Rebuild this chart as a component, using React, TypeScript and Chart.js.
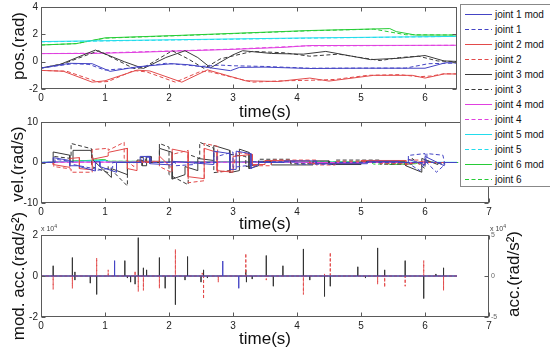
import React, { useEffect, useRef } from "react";
import { Chart, registerables } from "chart.js";
Chart.register(...registerables);

type P = [number, number];

// ---------------- data ----------------
const legendLabels = [
  "joint 1 mod", "joint 1", "joint 2 mod", "joint 2", "joint 3 mod", "joint 3",
  "joint 4 mod", "joint 4", "joint 5 mod", "joint 5", "joint 6 mod", "joint 6",
];

const posXTicks = [0, 1, 2, 3, 4, 5, 6];
const posYTicks = [-2, 0, 2, 4];
const velXTicks = [0, 1, 2, 3, 4, 5, 6, 7];
const velYTicks = [-10, 0, 10];
const accYTicks = [-2, 0, 2];
const accRightTicks = [-5, 0, 5];

// positions (rad) vs time (s)
const pos1Mod: P[] = [[0,-0.47],[0.45,-0.12],[0.8,-0.15],[1.08,-0.71],[1.5,-0.38],[2.05,-0.15],[2.3,-0.22],[2.96,-0.66],[3.1,-0.42],[3.5,-0.4],[4.2,-0.5],[5.0,-0.48],[6.0,-0.48],[6.32,-0.08],[6.5,-0.08]];
const pos1: P[] = [[0,-0.47],[0.5,-0.15],[0.75,-0.2],[1.0,-0.62],[1.45,-0.45],[1.95,-0.12],[2.5,-0.35],[2.8,-0.25],[3.0,-0.3],[3.5,-0.35],[4.2,-0.48],[5.0,-0.47],[5.7,-0.47],[6.05,-0.15],[6.5,-0.1]];
const pos2Mod: P[] = [[0,-0.64],[0.35,-0.7],[0.8,-1.5],[1.0,-1.4],[1.5,-0.62],[1.7,-0.68],[2.2,-1.5],[2.6,-0.6],[3.2,-1.4],[3.7,-1.45],[4.2,-1.2],[4.5,-1.42],[5.2,-1.0],[5.8,-1.0],[6.0,-1.2],[6.3,-0.9],[6.5,-0.9]];
const pos2: P[] = [[0,-0.64],[0.4,-0.7],[0.9,-1.5],[1.05,-1.45],[1.45,-0.65],[1.65,-0.75],[2.1,-1.5],[2.5,-0.7],[2.65,-0.75],[3.3,-1.5],[3.8,-1.4],[4.3,-1.35],[4.6,-1.3],[5.1,-1.0],[5.6,-0.95],[5.9,-1.1],[6.1,-1.05],[6.3,-0.88],[6.5,-0.9]];
const pos3Mod: P[] = [[0,-0.47],[0.3,-0.2],[0.85,0.85],[1.3,0.0],[1.6,-0.5],[1.95,0.3],[2.25,0.8],[2.45,0.3],[2.65,-0.45],[3.0,0.5],[3.15,0.8],[3.6,0.6],[4.1,0.55],[4.45,0.75],[5.15,0.15],[5.6,0.25],[6.0,0.45],[6.3,0.05],[6.5,0.02]];
const pos3: P[] = [[0,-0.47],[0.35,-0.15],[0.9,0.8],[1.45,-0.5],[1.6,-0.45],[2.05,0.8],[2.3,0.2],[2.55,-0.5],[2.8,0.2],[3.3,0.75],[3.8,0.65],[4.2,0.4],[4.65,0.55],[5.3,0.08],[5.6,0.3],[5.9,0.4],[6.2,0.05],[6.5,0.0]];
const pos4Mod: P[] = [[0,0.59],[0.8,0.6],[1.5,0.68],[2.0,0.76],[3.0,0.9],[3.8,1.05],[4.2,1.18],[6.5,1.2]];
const pos4: P[] = [[0,0.59],[0.8,0.62],[2.0,0.78],[3.0,0.92],[4.1,1.15],[6.5,1.2]];
const pos5Mod: P[] = [[0,1.47],[2.0,1.6],[4.2,1.74],[6.5,1.85]];
const pos5: P[] = [[0,1.45],[2.0,1.58],[4.2,1.72],[5.3,1.78],[6.5,1.85]];
const pos6Mod: P[] = [[0,1.22],[0.55,1.32],[1.0,1.74],[2.14,1.92],[4.2,2.28],[5.45,2.42],[5.55,2.2],[5.85,1.95],[6.5,1.95]];
const pos6: P[] = [[0,1.22],[0.55,1.32],[1.0,1.72],[2.14,1.9],[4.2,2.26],[5.2,2.38],[5.7,1.97],[6.5,1.95]];

// velocities (rad/s) vs time (s)
const vel1Mod: P[] = [[0,0],[0.19,0],[0.19,1.2],[0.45,0.5],[0.45,-0.8],[0.6,-0.8],[0.6,-1.0],[0.85,-2.1],[0.85,0.2],[0.92,0.2],[0.92,-1.0],[1.18,-2.4],[1.18,0],[1.55,0],[1.55,1.5],[1.7,1.5],[1.7,-0.3],[2.05,-0.6],[2.05,0.3],[2.7,-0.5],[2.7,2.8],[2.95,2.2],[2.95,-1.7],[3.05,-1.7],[3.05,2.8],[3.28,2.2],[3.28,-1.5],[3.4,-0.5],[3.4,0],[3.8,0],[3.8,0.4],[4.3,0.4],[4.3,-0.3],[5.1,-0.3],[5.1,0.3],[5.6,0.3],[5.6,0],[5.74,0],[5.74,0.8],[6.0,-0.6],[6.0,1.5],[6.3,-0.8],[6.3,0],[6.5,0]];
const vel1: P[] = [[0,0],[0.22,0],[0.22,0.8],[0.5,0.2],[0.5,-0.5],[0.85,-1.6],[0.85,-2.0],[1.12,-1.3],[1.12,0],[1.6,0],[1.6,1.3],[1.72,1.3],[1.72,0],[2.1,0],[2.1,-0.8],[2.4,-0.5],[2.4,0],[2.75,0],[2.75,1.5],[3.0,2.6],[3.0,-1.2],[3.3,-0.6],[3.3,0.2],[4.0,0.2],[4.0,-0.4],[4.6,-0.4],[4.6,0],[5.74,0],[5.74,1.75],[6.0,2.2],[6.02,0.3],[5.92,-2.0],[5.78,-0.6],[5.74,0],[6.03,0],[6.03,2.2],[6.28,1.8],[6.31,-0.5],[6.18,-2.4],[6.05,-0.4],[6.03,0],[6.5,0]];
const vel2Mod: P[] = [[0,0],[0.19,0],[0.19,-0.5],[0.45,-1.2],[0.45,1.0],[0.6,1.2],[0.6,-1.5],[0.8,-1.8],[0.8,0.8],[1.05,1.6],[1.05,2.5],[1.35,3.5],[1.35,-1.5],[1.5,-2.0],[1.5,0.3],[1.85,0.3],[1.85,1.6],[2.05,-1.5],[2.05,3.3],[2.3,2.5],[2.3,-3.5],[2.55,-4.0],[2.55,3.5],[2.75,2.5],[2.75,-2.0],[3.0,-2.4],[3.0,1.5],[3.3,2.0],[3.3,-0.5],[3.5,-0.5],[3.5,0.5],[4.2,0.4],[4.2,-0.3],[5.0,-0.2],[5.0,0.5],[5.7,0.5],[5.7,-0.5],[6.0,0.4],[6.0,0],[6.5,0]];
const vel2: P[] = [[0,0],[0.2,0],[0.2,-1.0],[0.47,-1.6],[0.47,-2.4],[0.8,-2.4],[0.8,3.2],[1.05,3.5],[1.05,3.0],[1.3,5.0],[1.3,1.0],[1.45,-1.0],[1.45,0],[1.85,0],[1.85,-1.0],[2.05,-2.5],[2.05,2.0],[2.3,3.0],[2.3,-5.0],[2.55,-4.5],[2.55,4.7],[2.76,4.0],[2.76,-2.4],[3.0,-2.0],[3.05,2.5],[3.3,2.0],[3.3,-0.8],[3.6,-0.8],[3.6,0.6],[4.3,0.6],[4.3,-0.6],[4.6,-0.6],[4.6,0.3],[5.3,0.3],[5.3,-0.3],[5.7,-0.3],[5.7,0.6],[5.9,0.6],[5.9,-0.4],[6.0,-0.4],[6.0,0],[6.5,0]];
const vel3Mod: P[] = [[0,0],[0.19,0],[0.19,2.6],[0.45,1.8],[0.45,0.2],[0.5,0.2],[0.5,3.0],[0.78,3.0],[0.82,0.5],[1.1,-3.7],[1.1,-1.5],[1.35,-3.0],[1.35,0],[1.5,0],[1.5,0.6],[1.58,0.6],[1.58,-0.8],[1.65,-0.8],[1.65,1.5],[1.72,1.5],[1.72,0],[1.85,0],[1.85,3.5],[2.05,2.5],[2.05,-4.1],[2.25,-3.0],[2.25,-1.0],[2.45,-2.0],[2.45,1.0],[2.7,0.5],[2.7,4.2],[2.95,3.0],[2.95,-2.5],[3.1,-2.0],[3.1,3.3],[3.25,2.5],[3.25,-1.5],[3.4,-0.8],[3.4,0.3],[3.6,0.3],[3.6,-0.6],[4.25,-0.6],[4.25,0.4],[4.5,0.4],[4.5,-0.5],[5.0,-0.5],[5.0,0.2],[5.7,0.2],[5.7,-0.8],[5.95,-2.4],[5.95,1.0],[6.2,-0.5],[6.2,0],[6.5,0]];
const vel3: P[] = [[0,0],[0.2,0],[0.2,1.5],[0.47,1.0],[0.47,4.7],[0.79,3.4],[0.79,-1.0],[1.05,-2.5],[1.05,-1.0],[1.35,-5.8],[1.35,0],[1.55,0],[1.55,1.2],[1.63,1.2],[1.63,0],[1.85,0],[1.85,4.7],[2.0,3.8],[2.0,-3.0],[2.3,-5.5],[2.3,2.0],[2.48,1.0],[2.48,5.0],[2.7,3.5],[2.7,-2.5],[2.95,-2.0],[2.95,2.0],[3.2,1.5],[3.2,-1.0],[3.4,-0.5],[3.4,0.8],[3.9,0.8],[3.9,-0.3],[4.6,-0.3],[4.6,0.6],[5.3,0.6],[5.3,-0.4],[5.8,-0.4],[5.8,1.0],[6.0,-1.5],[6.0,0.5],[6.3,-0.5],[6.3,0],[6.5,0]];
const vel4Mod: P[] = [[0,0],[0.2,0.1],[4.0,0.1],[4.2,0],[6.5,0]];
const vel4: P[] = [[0,0],[0.2,0.08],[4.1,0.08],[4.2,0],[6.5,0]];
const vel5Mod: P[] = [[0,0],[0.1,0.1],[1.0,0.5],[1.05,0.1],[6.5,0.05]];
const vel5: P[] = [[0,0],[0.1,0.05],[1.0,0.4],[1.05,0.1],[6.5,0.0]];
const vel6Mod: P[] = [[0,0],[0.15,0.1],[1.0,0.7],[1.05,0.3],[3.0,0.2],[5.4,0.1],[5.45,-0.5],[5.85,-0.3],[5.9,0],[6.52,0]];
const vel6: P[] = [[0,0],[0.15,0.1],[1.0,0.65],[1.05,0.3],[5.15,0.12],[5.2,-0.4],[5.7,-0.3],[5.72,0],[6.5,0]];

// modified accelerations (x10^4 rad/s^2): [time, value] spikes
const accBlack: P[] = [[0.19,0.5],[0.49,0.9],[0.53,0.2],[0.53,-0.2],[0.77,-0.35],[0.87,-0.9],[1.31,0.75],[1.35,-0.1],[1.40,-0.3],[1.47,-0.4],[1.52,1.87],[1.60,0.4],[1.65,0.3],[1.85,0.9],[1.94,-0.6],[2.10,-1.4],[2.25,-0.2],[2.29,0.95],[2.5,-0.3],[2.54,0.3],[2.6,-0.1],[3.2,0.3],[3.21,-0.3],[3.3,-0.15],[3.52,1.0],[3.63,-0.5],[3.78,0.5],[4.1,1.32],[4.2,-0.2],[4.43,-1.0],[4.52,-0.5],[4.95,0.45],[5.07,-0.1],[5.26,1.37],[5.37,0.3],[5.69,0.75],[5.98,-1.1],[6.17,0.1],[6.29,0.4]];
const accRed: P[] = [[0.19,-0.65],[0.49,-0.6],[0.87,0.88],[1.05,0.3],[1.47,0.25],[1.52,-0.75],[1.60,-0.7],[1.85,-0.6],[2.10,1.3],[2.52,0.15],[2.54,-1.12],[2.77,-0.3],[3.2,1.1],[3.52,-0.2],[4.1,-0.9],[4.43,0.1],[4.52,1.15],[5.26,-0.4],[5.37,-0.55],[5.69,-0.5],[5.98,0.75],[6.29,-0.7]];
const accBlue: P[] = [[1.15,0.75],[2.84,0.73],[3.09,-0.6]];
const accEnd = 6.5;

// ---------------- styling ----------------
const FONT = "Arial, 'Liberation Sans', Helvetica, sans-serif";
const COLORS = ["#4444c4", "#e24a4a", "#3a3a3a", "#e040e0", "#22dcec", "#26cc36"];
const AXIS = "#5a5a5a";
const DASH = [4, 2.5];

const toXY = (arr: P[]) => arr.map(([x, y]) => ({ x, y }));

function spikes(arr: P[], end: number) {
  const s = [...arr].sort((a, b) => a[0] - b[0]);
  const out: { x: number; y: number }[] = [{ x: 0, y: 0 }];
  s.forEach(([t, v]) => {
    out.push({ x: t, y: 0 }, { x: t, y: v }, { x: t, y: 0 });
  });
  out.push({ x: end, y: 0 });
  return out;
}

function jointSets(mods: P[][], origs: P[][]) {
  const ds: any[] = [];
  for (let j = 0; j < 6; j++) {
    ds.push({ label: legendLabels[2 * j], data: toXY(mods[j]), borderColor: COLORS[j], borderWidth: 1, pointRadius: 0, tension: 0, fill: false });
    ds.push({ label: legendLabels[2 * j + 1], data: toXY(origs[j]), borderColor: COLORS[j], borderWidth: 1, borderDash: DASH, pointRadius: 0, tension: 0, fill: false });
  }
  return ds;
}

const boxPlugin = {
  id: "matBox",
  afterDatasetsDraw(chart: any) {
    const { ctx, chartArea: a } = chart;
    const L = Math.round(a.left) + 0.5, R = Math.round(a.right) - 0.5;
    const T = Math.round(a.top) + 0.5, B = Math.round(a.bottom) - 0.5;
    ctx.save();
    ctx.strokeStyle = AXIS;
    ctx.lineWidth = 1;
    ctx.setLineDash([]);
    ctx.strokeRect(L, T, R - L, B - T);
    const len = 4;
    ctx.beginPath();
    const xs = chart.scales.x;
    xs.ticks.forEach((tk: any) => {
      const px = Math.round(xs.getPixelForValue(tk.value)) + 0.5;
      ctx.moveTo(px, B); ctx.lineTo(px, B - len);
      ctx.moveTo(px, T); ctx.lineTo(px, T + len);
    });
    const ys = chart.scales.y;
    ys.ticks.forEach((tk: any) => {
      const py = Math.round(ys.getPixelForValue(tk.value)) + 0.5;
      ctx.moveTo(L, py); ctx.lineTo(L + len, py);
      ctx.moveTo(R, py); ctx.lineTo(R - len, py);
    });
    ctx.stroke();
    ctx.restore();
  },
};

function xAxis(max: number, ticks: number[]) {
  return {
    type: "linear", min: 0, max,
    afterBuildTicks: (s: any) => { s.ticks = ticks.map((v) => ({ value: v })); },
    afterFit: (s: any) => { s.height = 20; s.paddingLeft = 0; s.paddingRight = 0; },
    grid: { display: false, drawTicks: false },
    border: { display: false },
    ticks: { color: "#222", font: { family: FONT, size: 10 }, padding: 3, maxRotation: 0, autoSkip: false },
  };
}

function yAxis(min: number, max: number, ticks: number[], position = "left", width = 41, size = 10, color = "#222", pad = 3) {
  return {
    type: "linear", min, max, position,
    afterBuildTicks: (s: any) => { s.ticks = ticks.map((v) => ({ value: v })); },
    afterFit: (s: any) => { s.width = width; s.paddingTop = 0; s.paddingBottom = 0; },
    grid: { display: false, drawTicks: false },
    border: { display: false },
    ticks: { color, font: { family: FONT, size }, padding: pad, autoSkip: false },
  };
}

function baseOptions(padding: any, scales: any) {
  return {
    responsive: false,
    animation: false,
    devicePixelRatio: 1,
    events: [],
    layout: { padding },
    plugins: { legend: { display: false }, tooltip: { enabled: false } },
    scales,
  };
}

function useChart(make: () => any) {
  const ref = useRef<HTMLCanvasElement | null>(null);
  useEffect(() => {
    if (!ref.current) return;
    const chart = new Chart(ref.current, make());
    return () => chart.destroy();
  }, []);
  return ref;
}

const canvasStyle: React.CSSProperties = { position: "absolute", left: 0, top: 0, width: 550, height: 354 };

function PosChart() {
  const ref = useChart(() => ({
    type: "line",
    data: { datasets: jointSets([pos1Mod, pos2Mod, pos3Mod, pos4Mod, pos5Mod, pos6Mod], [pos1, pos2, pos3, pos4, pos5, pos6]) },
    options: baseOptions({ left: 0, right: 93, top: 7, bottom: 245 }, {
      x: xAxis(6.5, posXTicks),
      y: yAxis(-2, 4, posYTicks),
    }),
    plugins: [boxPlugin],
  }));
  return <canvas ref={ref} width={550} height={354} style={canvasStyle} />;
}

function VelChart() {
  const ref = useChart(() => ({
    type: "line",
    data: { datasets: jointSets([vel1Mod, vel2Mod, vel3Mod, vel4Mod, vel5Mod, vel6Mod], [vel1, vel2, vel3, vel4, vel5, vel6]) },
    options: baseOptions({ left: 0, right: 61, top: 122, bottom: 131 }, {
      x: xAxis(7, velXTicks),
      y: yAxis(-10, 10, velYTicks),
    }),
    plugins: [boxPlugin],
  }));
  return <canvas ref={ref} width={550} height={354} style={canvasStyle} />;
}

function AccChart() {
  const ref = useChart(() => ({
    type: "line",
    data: {
      datasets: [
        { label: "blue", data: spikes(accBlue, accEnd), borderColor: COLORS[0], borderWidth: 1, pointRadius: 0, tension: 0 },
        { label: "red", data: spikes(accRed, accEnd), borderColor: COLORS[1], borderWidth: 1, borderDash: [3, 2], pointRadius: 0, tension: 0 },
        { label: "black", data: spikes(accBlack, accEnd), borderColor: "#333", borderWidth: 1, pointRadius: 0, tension: 0 },
      ],
    },
    options: baseOptions({ left: 0, right: 41, top: 235, bottom: 17 }, {
      x: xAxis(7, velXTicks),
      y: yAxis(-2, 2, accYTicks),
      y2: yAxis(-5, 5, accRightTicks, "right", 20, 7, "#666", 2),
    }),
    plugins: [boxPlugin],
  }));
  return <canvas ref={ref} width={550} height={354} style={canvasStyle} />;
}

const titleFont = 17;

function Title({ text, cx, cy, rotate = false }: { text: React.ReactNode; cx: number; cy: number; rotate?: boolean }) {
  return (
    <div
      style={{
        position: "absolute", left: cx, top: cy, whiteSpace: "nowrap",
        transform: `translate(-50%, -50%)${rotate ? " rotate(-90deg)" : ""}`,
        fontFamily: FONT, fontSize: titleFont, color: "#111", lineHeight: 1,
      }}
    >
      {text}
    </div>
  );
}

function Sci({ x, y }: { x: number; y: number }) {
  return (
    <div style={{ position: "absolute", left: x, top: y, fontFamily: FONT, fontSize: 7, color: "#444", whiteSpace: "nowrap", lineHeight: 1 }}>
      x 10<sup style={{ fontSize: 5 }}>4</sup>
    </div>
  );
}

function Legend() {
  const rows = legendLabels.map((lab, i) => {
    const j = Math.floor(i / 2);
    const dashed = i % 2 === 1;
    const y = 10.5 + 15 * i;
    return (
      <g key={lab}>
        <line x1={5} x2={32} y1={y} y2={y} stroke={COLORS[j]} strokeWidth={1} strokeDasharray={dashed ? "4 2.5" : undefined} />
        <text x={35} y={y + 3.5} fontFamily={FONT} fontSize={10} fill="#111">{lab}</text>
      </g>
    );
  });
  return (
    <svg width={95} height={184} style={{ position: "absolute", left: 460, top: 4 }}>
      <rect x={0.5} y={0.5} width={100} height={182} fill="#fff" stroke="#888" strokeWidth={1} />
      {rows}
    </svg>
  );
}

export default function App() {
  return (
    <div style={{ position: "absolute", left: 0, top: 0, width: 550, height: 354, overflow: "hidden", background: "#fff" }}>
      <PosChart />
      <VelChart />
      <AccChart />
      <Title text="pos.(rad)" cx={18} cy={46} rotate />
      <Title text="vel.(rad/s)" cx={17} cy={164} rotate />
      <Title text="mod. acc.(rad/s²)" cx={18} cy={276} rotate />
      <Title text="acc.(rad/s²)" cx={513} cy={274} rotate />
      <Title text="time(s)" cx={265} cy={111} />
      <Title text="time(s)" cx={265} cy={223} />
      <Title text="time(s)" cx={265} cy={338} />
      <Sci x={41} y={224} />
      <Sci x={490} y={224} />
      <Legend />
    </div>
  );
}
